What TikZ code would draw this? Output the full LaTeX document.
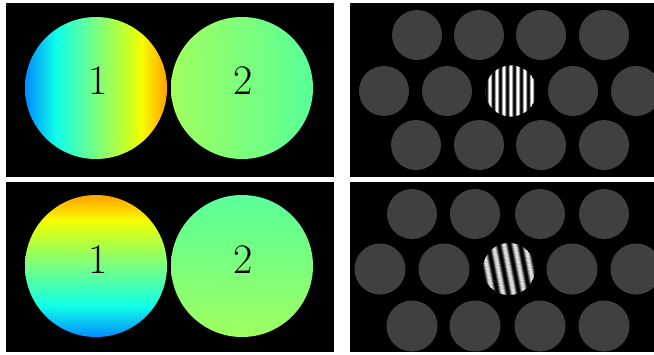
\documentclass[tikz,border=0pt]{standalone}
\usepackage{xcolor}
\definecolor{jA}{RGB}{0,140,255}
\definecolor{jB}{RGB}{16,255,232}
\definecolor{jC}{RGB}{120,255,130}
\definecolor{jD}{RGB}{200,255,40}
\definecolor{jE}{RGB}{245,255,0}
\definecolor{jF}{RGB}{255,200,0}
\definecolor{jG}{RGB}{255,160,0}
\definecolor{kA}{RGB}{160,255,96}
\definecolor{kB}{RGB}{88,255,152}
\definecolor{disc}{RGB}{64,64,64}
\pgfdeclarehorizontalshading{jetA}{100bp}{color(0bp)=(jA); color(25bp)=(jA); color(36bp)=(jB); color(50bp)=(jC); color(61bp)=(jD); color(66bp)=(jE); color(71bp)=(jF); color(75bp)=(jG); color(100bp)=(jG)}
\pgfdeclarehorizontalshading{flatB}{100bp}{color(0bp)=(kA); color(25bp)=(kA); color(75bp)=(kB); color(100bp)=(kB)}
\tikzset{
  panel/.style={fill=black},
  grey disc/.style={fill=disc},
  digit/.style={font=\fontsize{42}{42}\selectfont, text=black, anchor=base, inner sep=0pt},
}
\begin{document}
\begin{tikzpicture}[x=1pt,y=-1pt]
\fill[white] (0,0) rectangle (654,354);
\useasboundingbox (0,0) rectangle (654,354);
% panels
\fill[panel] (6,3) rectangle (334,177);
\fill[panel] (350,3) rectangle (654,177);
\fill[panel] (6,182) rectangle (334,352);
\fill[panel] (350,182) rectangle (654,352);
% top-left
\shade[shading=jetA] (96,88) circle[radius=71];
\shade[shading=flatB] (242,88) circle[radius=71];
\node[digit] (t1) at (98,94) {1};
\node[digit] (t2) at (243,94) {2};
% bottom-left
\shade[shading=jetA, shading angle=90] (96,266) circle[radius=71];
\shade[shading=flatB, shading angle=90] (242,266) circle[radius=71];
\node[digit] (b1) at (98,273) {1};
\node[digit] (b2) at (243,273) {2};
% top-right discs
\begin{scope}
\clip (350,3) rectangle (654,177);
\foreach \x in {417,479,541,604} {\fill[grey disc] (\x,35) circle[radius=25];}
\foreach \x in {384,447,573,636} {\fill[grey disc] (\x,91) circle[radius=25];}
\foreach \x in {416,479,541,604} {\fill[grey disc] (\x,145) circle[radius=25];}
\end{scope}
\begin{scope}[shift={(511,91)}]
\clip (0,0) circle[radius=25.5];
\foreach \i in {-56,...,56} {
  \pgfmathsetmacro\v{max(0,min(100,50+60*cos(\i*180/7)))}
  \fill[white!\v!black] ({\i/2-0.25},-30) rectangle ({\i/2+0.3},30);
}
\end{scope}
% bottom-right discs
\begin{scope}
\clip (350,182) rectangle (654,352);
\foreach \x in {412,475,540,604} {\fill[grey disc] (\x,214) circle[radius=25];}
\foreach \x in {380,444,572,636} {\fill[grey disc] (\x,269) circle[radius=25.5];}
\foreach \x in {412,475,540,604} {\fill[grey disc] (\x,326) circle[radius=25.5];}
\end{scope}
\begin{scope}[shift={(509,269)}, rotate=11]
\clip (0,0) circle[radius=26];
\foreach \i in {-60,...,60} {
  \pgfmathsetmacro\v{max(0,min(100,50+60*cos(\i*180/10.5)))}
  \fill[white!\v!black] ({\i/2-0.25},-32) rectangle ({\i/2+0.3},32);
}
\end{scope}
\end{tikzpicture}
\end{document}
